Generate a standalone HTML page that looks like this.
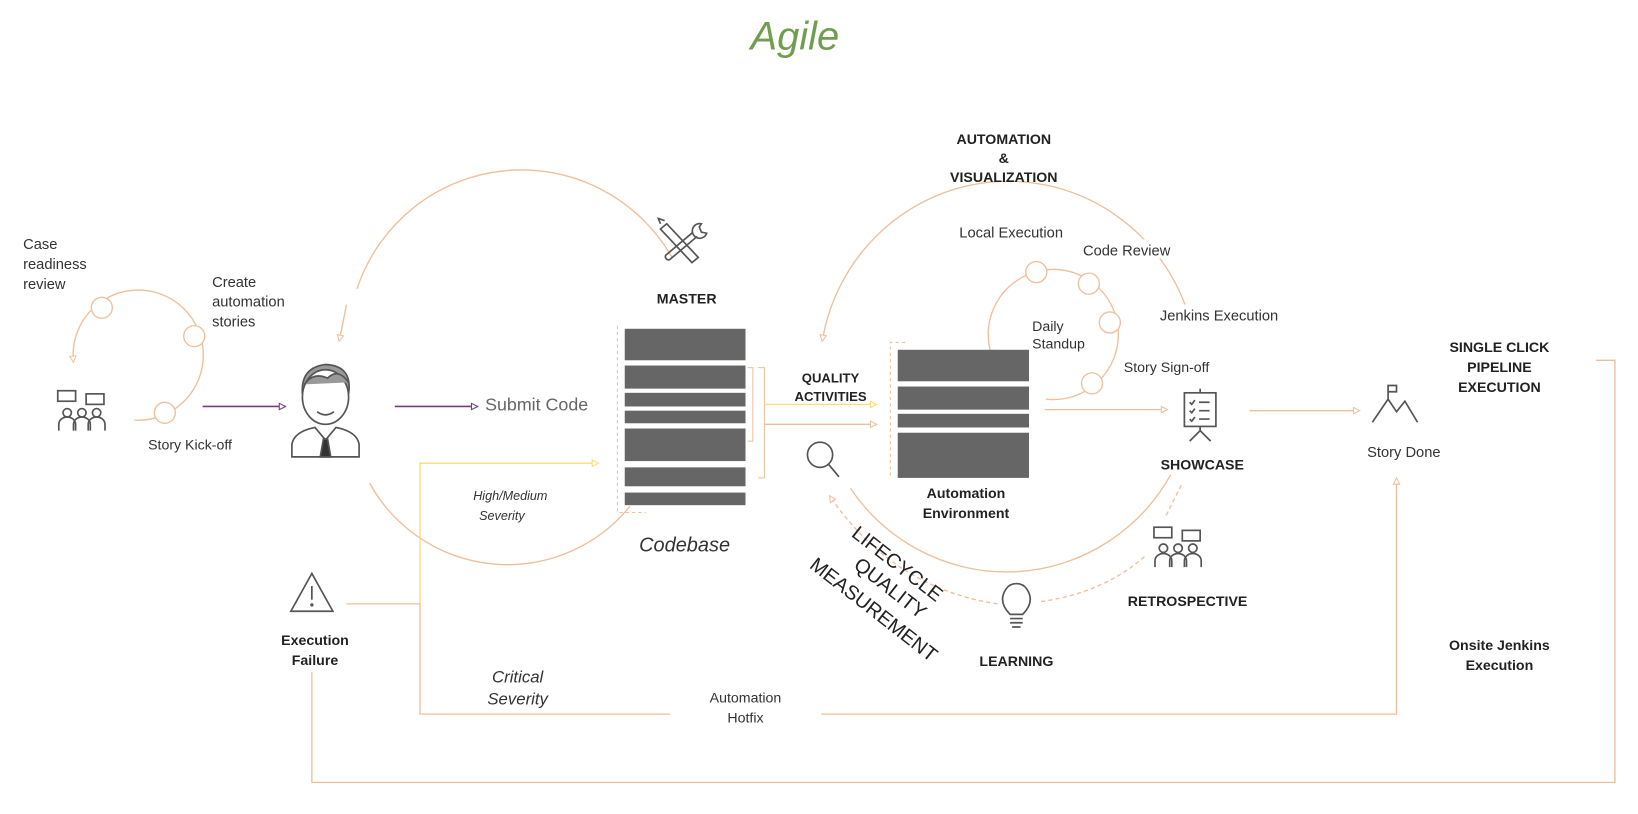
<!DOCTYPE html>
<html><head><meta charset="utf-8"><style>
html,body{margin:0;padding:0;background:#fff;}
svg{display:block;}
text{font-family:"Liberation Sans",Arial,sans-serif;fill:#333;}
.b{font-weight:bold;font-size:13.5px;fill:#222;}
.n{font-size:14px;fill:#333;}
.o{fill:none;stroke:#efbf9c;stroke-width:1.3;}
.d{fill:none;stroke:#efbf9c;stroke-width:1.3;stroke-dasharray:4 3;}
.i{fill:none;stroke:#555;stroke-width:1.6;}
.bar{fill:#666;}
</style></head><body>
<svg width="1638" height="814" viewBox="0 0 1560 775" xmlns="http://www.w3.org/2000/svg">
<defs>
<marker id="ao" markerWidth="8" markerHeight="8" refX="7" refY="4" orient="auto" markerUnits="userSpaceOnUse"><path d="M1,1 L7,4 L1,7 Z" fill="#fff" stroke="#efbf9c"/></marker>
<marker id="ay" markerWidth="8" markerHeight="8" refX="7" refY="4" orient="auto" markerUnits="userSpaceOnUse"><path d="M1,1 L7,4 L1,7 Z" fill="#fff" stroke="#f7dc7a"/></marker>
<marker id="ap" markerWidth="8" markerHeight="8" refX="7" refY="4" orient="auto" markerUnits="userSpaceOnUse"><path d="M1,1 L7,4 L1,7 Z" fill="#fff" stroke="#7a3a7a"/></marker>
</defs>

<text x="757" y="47" text-anchor="middle" style="font-size:38px;font-style:italic;fill:#6f9e4f;">Agile</text>

<!-- left small cycle -->
<path class="o" d="M128,400 A62,62 0 1 0 70,345" marker-end="url(#ao)"/>
<circle cx="97" cy="293" r="10" fill="#fff" stroke="#efbf9c" stroke-width="1.3"/>
<circle cx="185" cy="320" r="10" fill="#fff" stroke="#efbf9c" stroke-width="1.3"/>
<circle cx="157" cy="393" r="10" fill="#fff" stroke="#efbf9c" stroke-width="1.3"/>
<text class="n" x="22" y="237">Case</text>
<text class="n" x="22" y="256">readiness</text>
<text class="n" x="22" y="275">review</text>
<text class="n" x="202" y="273">Create</text>
<text class="n" x="202" y="292">automation</text>
<text class="n" x="202" y="311">stories</text>
<text class="n" x="181" y="428" text-anchor="middle" style="font-size:13.5px">Story Kick-off</text>
<!-- people icon -->
<g class="i" stroke-width="1.3">
<rect x="55" y="372" width="17" height="10"/><rect x="82" y="375" width="17" height="10"/>
<circle cx="64" cy="393" r="4"/><circle cx="78" cy="393" r="4"/><circle cx="92" cy="393" r="4"/>
<path d="M56,410 v-6 a8,7 0 0 1 16,0 v6 M70,410 v-6 a8,7 0 0 1 16,0 v6 M84,410 v-6 a8,7 0 0 1 16,0 v6"/>
</g>
<line x1="193" y1="387" x2="272" y2="387" stroke="#7a3a7a" stroke-width="1.5" marker-end="url(#ap)"/>
<line x1="376" y1="387" x2="455" y2="387" stroke="#7a3a7a" stroke-width="1.5" marker-end="url(#ap)"/>
<!-- person -->
<g class="i" stroke-width="1.3">
<path d="M288,375 q-2,-25 22,-28 q26,1 22,28" fill="#999"/>
<ellipse cx="310" cy="378" rx="22" ry="26" fill="#fff"/>
<path d="M290,366 q8,-12 22,-6 q10,-10 20,4" fill="#999"/>
<path d="M278,435 v-12 q2,-12 22,-16 l10,12 l10,-12 q20,4 22,16 v12 z" fill="#fff"/>
<path d="M308,418 l-3,17 h10 l-3,-17 z" fill="#333"/>
<path d="M302,392 q8,6 16,0"/>
</g>
<text x="462" y="391" style="font-size:17px;fill:#666">Submit Code</text>

<!-- big left circle -->
<path class="o" d="M340,275 A165,165 0 0 1 640,245"/>
<path class="o" d="M330,290 L323,325" marker-end="url(#ao)"/>
<path class="o" d="M352,460 A150,150 0 0 0 600,482"/>
<!-- tools icon -->
<g class="i" stroke-width="1.4">
<path d="M635,213 l30,32 l-6,5 l-30,-32 z M629,213 l-2,-5 l6,2"/>
<path d="M668,213 a7,7 0 1 0 5,9 l-5,-1 l-2,-5 z M664,225 l-26,22 a3,3 0 0 1 -4,-4 l26,-22"/>
</g>
<text class="b" x="654" y="289" text-anchor="middle">MASTER</text>
<!-- codebase -->
<path d="M588,310 V488 H615" fill="none" stroke="#efbf9c" stroke-dasharray="3 3"/>
<rect class="bar" x="595" y="313" width="115" height="30"/>
<rect class="bar" x="595" y="348" width="115" height="22"/>
<rect class="bar" x="595" y="374" width="115" height="13"/>
<rect class="bar" x="595" y="391" width="115" height="12"/>
<rect class="bar" x="595" y="408" width="115" height="31"/>
<rect class="bar" x="595" y="445" width="115" height="18"/>
<rect class="bar" x="595" y="469" width="115" height="12"/>
<path d="M712,350 h5 v70 h-5 M722,350 h6 v105 h-6" fill="none" stroke="#efbf9c"/>
<line x1="728" y1="385" x2="835" y2="385" stroke="#f7dc7a" stroke-width="1.3" marker-end="url(#ay)"/>
<line x1="728" y1="404" x2="835" y2="404" class="o" marker-end="url(#ao)"/>
<text class="b" x="791" y="364" text-anchor="middle" style="font-size:12.5px">QUALITY</text>
<text class="b" x="791" y="382" text-anchor="middle" style="font-size:12.5px">ACTIVITIES</text>
<text x="652" y="525" text-anchor="middle" style="font-size:19px;font-style:italic;fill:#333">Codebase</text>
<text x="486" y="476" text-anchor="middle" style="font-size:12px;font-style:italic">High/Medium</text>
<text x="478" y="495" text-anchor="middle" style="font-size:12px;font-style:italic">Severity</text>

<!-- yellow severity line -->
<path d="M400,575 V441 H570" fill="none" stroke="#f7dc7a" stroke-width="1.3" marker-end="url(#ay)"/>
<!-- execution failure -->
<g class="i" stroke-width="1.4"><path d="M297,546 L317,582 H277 Z"/><line x1="297" y1="558" x2="297" y2="571"/><circle cx="297" cy="576" r="0.8"/></g>
<text class="b" x="300" y="614" text-anchor="middle">Execution</text>
<text class="b" x="300" y="633" text-anchor="middle">Failure</text>
<path class="o" d="M330,575 H400 V680 H638"/>
<path class="o" d="M782,680 H1330 V455" marker-end="url(#ao)"/>
<text x="710" y="669" text-anchor="middle" class="n" style="font-size:13.5px">Automation</text>
<text x="710" y="688" text-anchor="middle" class="n" style="font-size:13.5px">Hotfix</text>
<text x="493" y="650" text-anchor="middle" style="font-size:16px;font-style:italic">Critical</text>
<text x="493" y="671" text-anchor="middle" style="font-size:16px;font-style:italic">Severity</text>
<path class="o" d="M297,640 V745 H1538 V343 H1520"/>
<text class="b" x="1428" y="335" text-anchor="middle">SINGLE CLICK</text>
<text class="b" x="1428" y="354" text-anchor="middle">PIPELINE</text>
<text class="b" x="1428" y="373" text-anchor="middle">EXECUTION</text>
<text class="b" x="1428" y="619" text-anchor="middle">Onsite Jenkins</text>
<text class="b" x="1428" y="638" text-anchor="middle">Execution</text>
<!-- story done -->
<g class="i" stroke-width="1.4"><path d="M1307,402 L1322,380 L1330,392 L1338,382 L1350,402 M1322,380 V367 h8 v6 h-8"/></g>
<text class="n" x="1337" y="435" text-anchor="middle">Story Done</text>
<line x1="1190" y1="391" x2="1295" y2="391" class="o" marker-end="url(#ao)"/>

<!-- right big circle -->
<path class="o" d="M1132,300 A180,183 0 0 0 783,325" marker-end="url(#ao)"/>
<path class="o" d="M810,465 A180,183 0 0 0 1115,452"/>
<!-- inner cycle -->
<path class="o" d="M996,380 A62,62 0 1 0 945,340" marker-end="url(#ao)"/>
<circle cx="987" cy="259" r="10" fill="#fff" stroke="#efbf9c" stroke-width="1.3"/>
<circle cx="1037" cy="270" r="10" fill="#fff" stroke="#efbf9c" stroke-width="1.3"/>
<circle cx="1057" cy="307" r="10" fill="#fff" stroke="#efbf9c" stroke-width="1.3"/>
<circle cx="1040" cy="365" r="10" fill="#fff" stroke="#efbf9c" stroke-width="1.3"/>
<text class="b" x="956" y="137" text-anchor="middle">AUTOMATION</text>
<text class="b" x="956" y="155" text-anchor="middle">&amp;</text>
<text class="b" x="956" y="173" text-anchor="middle">VISUALIZATION</text>
<rect x="905" y="210" width="120" height="18" fill="#fff"/>
<text class="n" x="963" y="226" text-anchor="middle">Local Execution</text>
<rect x="1025" y="228" width="96" height="18" fill="#fff"/>
<text class="n" x="1073" y="243" text-anchor="middle">Code Review</text>
<rect x="1095" y="290" width="132" height="18" fill="#fff"/>
<text class="n" x="1161" y="305" text-anchor="middle">Jenkins Execution</text>
<text class="n" x="983" y="315" style="font-size:13.5px">Daily</text>
<text class="n" x="983" y="332" style="font-size:13.5px">Standup</text>
<text class="n" x="1111" y="354" text-anchor="middle" style="font-size:13.5px">Story Sign-off</text>
<!-- env -->
<path d="M862,326 H848 V455" fill="none" stroke="#efbf9c" stroke-dasharray="3 3"/>
<rect class="bar" x="855" y="333" width="125" height="30"/>
<rect class="bar" x="855" y="368" width="125" height="22"/>
<rect class="bar" x="855" y="394" width="125" height="13"/>
<rect class="bar" x="855" y="412" width="125" height="43"/>
<text class="b" x="920" y="474" text-anchor="middle">Automation</text>
<text class="b" x="920" y="493" text-anchor="middle">Environment</text>
<line x1="995" y1="390" x2="1112" y2="390" class="o" marker-end="url(#ao)"/>
<!-- showcase icon -->
<g class="i" stroke-width="1.4"><rect x="1128" y="374" width="30" height="32"/><path d="M1143,370 v4 M1143,406 v4 l-10,10 M1143,410 l10,10 M1133,383 l2,2 l3,-4 M1133,391 l2,2 l3,-4 M1133,399 l2,2 l3,-4 M1142,383 h10 M1142,391 h10 M1142,399 h10"/></g>
<text class="b" x="1145" y="447" text-anchor="middle">SHOWCASE</text>
<!-- magnifier -->
<g class="i" stroke-width="1.6"><circle cx="781" cy="433" r="12"/><path d="M789,442 l10,12"/></g>
<!-- retrospective -->
<g class="i" stroke-width="1.3">
<rect x="1099" y="502" width="17" height="10"/><rect x="1126" y="505" width="17" height="10"/>
<circle cx="1108" cy="522" r="4"/><circle cx="1122" cy="522" r="4"/><circle cx="1136" cy="522" r="4"/>
<path d="M1100,540 v-6 a8,7 0 0 1 16,0 v6 M1114,540 v-6 a8,7 0 0 1 16,0 v6 M1128,540 v-6 a8,7 0 0 1 16,0 v6"/>
</g>
<text class="b" x="1131" y="577" text-anchor="middle">RETROSPECTIVE</text>
<!-- bulb -->
<g class="i" stroke-width="1.3"><path d="M962,585 q-12,-12 -4,-24 a12,12 0 0 1 20,0 q8,12 -4,24 z M962,589 h12 M962,593 h12 M964,597 h8"/></g>
<text class="b" x="968" y="634" text-anchor="middle">LEARNING</text>
<path class="d" d="M1125,462 L1110,492"/>
<path class="d" d="M1090,530 Q1050,565 990,573"/>
<path class="d" d="M950,575 Q850,560 790,472" marker-end="url(#ao)"/>
<g style="font-size:19px;fill:#222">
<text x="810" y="510" transform="rotate(38 810 510)" style="fill:#222">LIFECYCLE</text>
<text x="812" y="540" transform="rotate(38 812 540)" style="fill:#222">QUALITY</text>
<text x="770" y="540" transform="rotate(38 770 540)" style="fill:#222">MEASUREMENT</text>
</g>
</svg>
</body></html>
